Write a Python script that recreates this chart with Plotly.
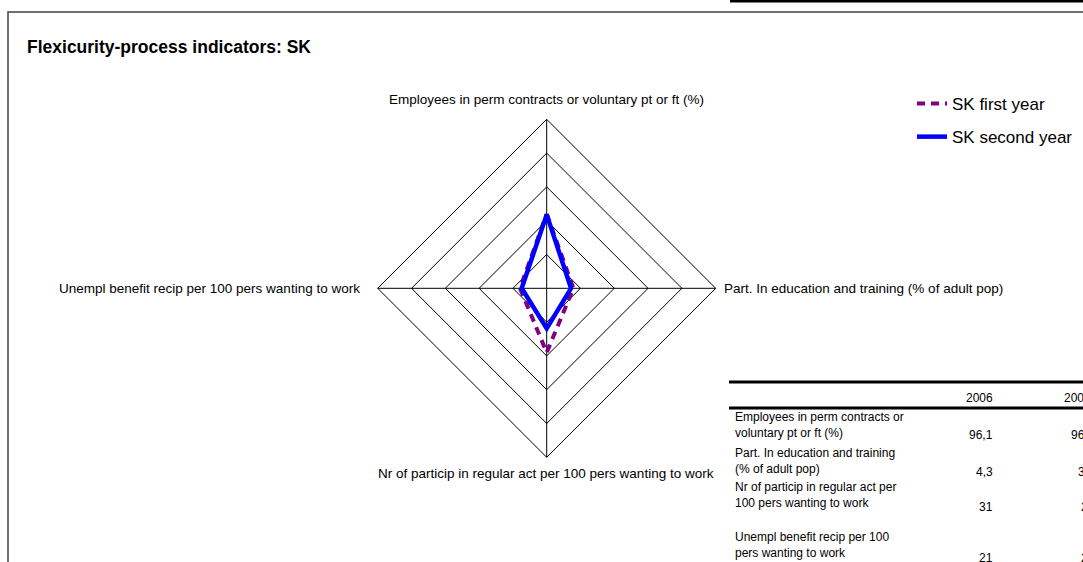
import plotly.graph_objects as go

W, H = 1083, 562

def px(x):
    return x / W

def py(y):
    return 1 - y / H

# chart data (radar values read in ring units, 5 rings)
categories = [
    'Employees in perm contracts or voluntary pt or ft (%)',
    'Part. In education and training (% of adult pop)',
    'Nr of particip in regular act per 100 pers wanting to work',
    'Unempl benefit recip per 100 pers wanting to work',
]
first_year = [2.2, 0.79, 1.9, 0.79]
second_year = [2.18, 0.72, 1.19, 0.74]

# table beside the chart
table_years = ['2006', '2007']
table_rows = [
    'Employees in perm contracts or<br>voluntary pt or ft (%)',
    'Part. In education and training<br>(% of adult pop)',
    'Nr of particip in regular act per<br>100 pers wanting to work',
    'Unempl benefit recip per 100<br>pers wanting to work',
]
values_2006 = ['96,1', '4,3', '31', '21']
values_2007 = ['96,3', '3,9', '20', '20']

fig = go.Figure()

fig.add_trace(go.Scatterpolar(
    r=first_year + first_year[:1],
    theta=categories + categories[:1],
    mode='lines',
    line=dict(color='#800080', width=4, dash='8px,6px'),
    name='SK first year', legendgroup='a'))

fig.add_trace(go.Scatterpolar(
    r=second_year + second_year[:1],
    theta=categories + categories[:1],
    mode='lines',
    line=dict(color='#0000ff', width=4.5),
    name='SK second year', legendgroup='b'))

cx, cy, rad = 546.7, 288.3, 169

fig.update_layout(
    width=W, height=H,
    margin=dict(l=0, r=0, t=0, b=0),
    paper_bgcolor='white',
    font=dict(family='Liberation Sans, Arial', color='black'),
    showlegend=True,
    legend=dict(x=px(912), y=py(86), xanchor='left', yanchor='top',
                font=dict(size=17), traceorder='grouped', tracegroupgap=8,
                bgcolor='rgba(0,0,0,0)'),
    polar=dict(
        domain=dict(x=[px(cx - rad), px(cx + rad)], y=[py(cy + rad), py(cy - rad)]),
        bgcolor='white',
        gridshape='linear',
        radialaxis=dict(range=[0, 5], dtick=1, showticklabels=False, ticks='',
                        gridcolor='black', gridwidth=1, showline=False, angle=90),
        angularaxis=dict(rotation=90, direction='clockwise', showticklabels=False,
                         ticks='', gridcolor='black', gridwidth=1,
                         linecolor='black', linewidth=1, showline=True),
    ),
)

# title and frame
fig.add_annotation(text='<b>Flexicurity-process indicators: SK</b>', x=px(25), y=py(47),
                   xref='paper', yref='paper', xanchor='left', yanchor='middle',
                   showarrow=False, font=dict(size=17.5))
fig.add_shape(type='rect', xref='paper', yref='paper', x0=px(8), x1=px(1120),
              y0=py(12), y1=py(620), line=dict(color='#404040', width=1.5))
fig.add_shape(type='line', xref='paper', yref='paper', x0=px(730), x1=px(1090),
              y0=py(1), y1=py(1), line=dict(color='black', width=3))

# axis labels
label_pos = [(546, 100, 'center'), (722, 288, 'left'), (546, 473, 'center'), (362, 288, 'right')]
for name, (lx, ly, anchor) in zip(categories, label_pos):
    fig.add_annotation(text=name, x=px(lx), y=py(ly), xref='paper', yref='paper',
                       xanchor=anchor, yanchor='middle', showarrow=False,
                       font=dict(size=13.5))

# table
for yl in (382, 408):
    fig.add_shape(type='line', xref='paper', yref='paper', x0=px(729), x1=px(1120),
                  y0=py(yl), y1=py(yl), line=dict(color='black', width=3))
col_right = [995, 1093]
val_right = [995, 1097]
for yr, xr in zip(table_years, col_right):
    fig.add_annotation(text=yr, x=px(xr), y=py(398), xref='paper', yref='paper',
                       xanchor='right', yanchor='middle', showarrow=False,
                       font=dict(size=12))
row_label_y = [425, 461, 494.5, 545]
row_value_y = [435, 472, 507, 558]
for lab, v6, v7, ly, vy in zip(table_rows, values_2006, values_2007, row_label_y, row_value_y):
    fig.add_annotation(text=lab, x=px(733), y=py(ly), xref='paper', yref='paper',
                       xanchor='left', yanchor='middle', align='left', showarrow=False,
                       font=dict(size=12))
    for val, xr in zip((v6, v7), val_right):
        fig.add_annotation(text=val, x=px(xr), y=py(vy), xref='paper', yref='paper',
                           xanchor='right', yanchor='middle', showarrow=False,
                           font=dict(size=12))

fig.write_html('out.html', config={'displayModeBar': False},
               post_script="document.body.style.margin='0';")
